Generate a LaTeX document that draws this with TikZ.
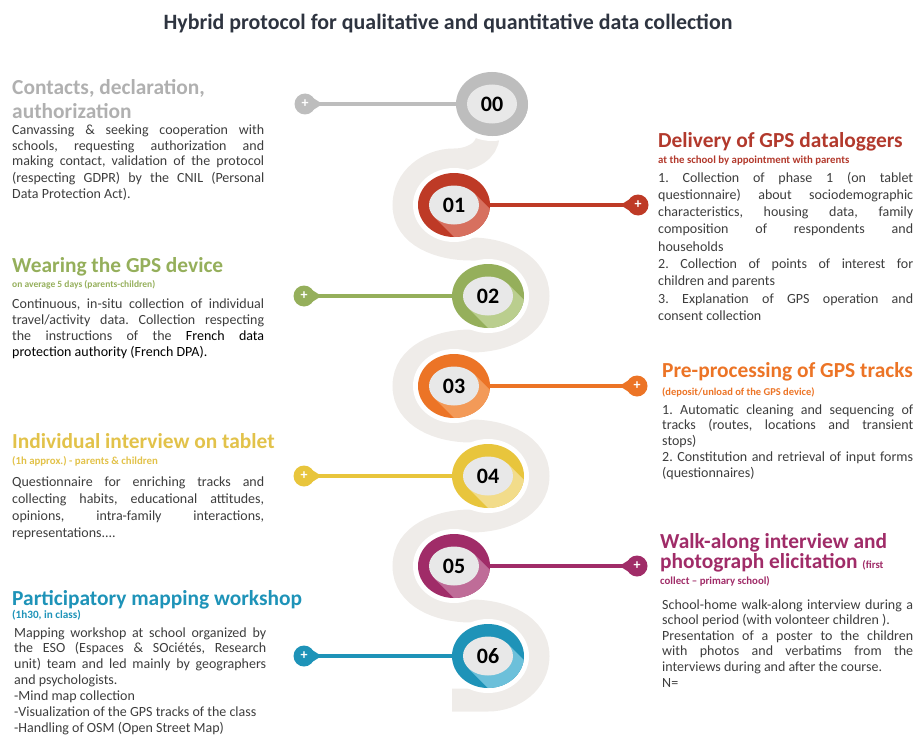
\documentclass[tikz,border=0pt]{standalone}
\usepackage{fontspec}
\setmainfont{Carlito}
\usetikzlibrary{shapes.geometric,arrows.meta}

\definecolor{headc}{HTML}{2E3440}
\definecolor{bodyc}{HTML}{3D3D3D}
\definecolor{snakec}{HTML}{EFECE9}
\definecolor{diskc}{HTML}{E8E8E8}
\definecolor{gr}{HTML}{BDBDBD}
\definecolor{grt}{HTML}{B0B0B0}
\definecolor{rd}{HTML}{BE3A26}
\definecolor{rdl}{HTML}{D7705F}
\definecolor{rdt}{HTML}{B2392C}
\definecolor{gn}{HTML}{95AF5B}
\definecolor{gnl}{HTML}{BACE8E}
\definecolor{og}{HTML}{EC7426}
\definecolor{ogl}{HTML}{F39A58}
\definecolor{yl}{HTML}{E8C53C}
\definecolor{yll}{HTML}{F2DC8A}
\definecolor{ylt}{HTML}{E2C24A}
\definecolor{pp}{HTML}{A02C68}
\definecolor{ppl}{HTML}{BF6C98}
\definecolor{tl}{HTML}{1E93B8}
\definecolor{tll}{HTML}{6CC0DA}

\hyphenpenalty=10000
\exhyphenpenalty=10000
\tolerance=9999
\emergencystretch=20pt
\frenchspacing

\begin{document}
\begin{tikzpicture}[x=1pt, y=1pt,
  ring/.style 2 args={ellipse, minimum width=72pt, minimum height=64pt, inner sep=0pt, outer sep=0pt, fill=#1,
    preaction={draw=white, line width=10pt},
    path picture={\fill[#2] ([shift={(19.5,12.5)}]path picture bounding box.center) -- ++(60,-60) -- ++(-39,-25) -- ++(-60,60) -- cycle;}},
  disk/.style={ellipse, minimum width=50pt, minimum height=39pt, inner sep=0pt, fill=diskc, font=\bfseries\fontsize{22}{22}\selectfont},
  plusdot/.style={circle, fill=#1, minimum size=21pt, inner sep=0pt, text=white, font=\bfseries\fontsize{14}{14}\selectfont},
  conn/.style={draw=#1, line width=4.5pt, arrows={Triangle[reversed, width=13pt, length=11pt]-}, shorten <=-4pt},
  band/.style={draw=snakec, line width=23pt},
  head/.style={anchor=base west, inner sep=0pt, font=\bfseries\fontsize{21.4}{23}\selectfont},
  sub/.style={anchor=base west, inner sep=0pt, font=\bfseries\fontsize{10.8}{12}\selectfont},
  body/.style={anchor=base west, inner sep=0pt, text width=252pt, align=justify, text=bodyc, font=\fontsize{14}{#1}\selectfont}]
\useasboundingbox (0,0) rectangle (917,-741);

\node[anchor=base, inner sep=0pt, text=headc, font=\bfseries\fontsize{21.9}{23}\selectfont] (title) at (448,-30) {Hybrid protocol for qualitative and quantitative data collection};

% winding road
\draw[band] (488,-118) -- (488,-135) to[out=-90,in=0] (454,-160) to[out=180,in=90] (404,-205)
  to[out=-90,in=180] (471,-249) to[out=0,in=90] (538,-296) to[out=-90,in=0] (471,-341)
  to[out=180,in=90] (404,-386) to[out=-90,in=180] (471,-431) to[out=0,in=90] (538,-476)
  to[out=-90,in=0] (471,-521) to[out=180,in=90] (404,-566) to[out=-90,in=180] (471,-611)
  to[out=0,in=90] (538,-656) to[out=-90,in=0] (488,-700) -- (452,-700);

% steps
\node[ring={gr}{gr}] (c0) at (492,-104) {};
\node[ring={rd}{rdl}] (c1) at (454,-205) {};
\node[ring={gn}{gnl}] (c2) at (488,-296) {};
\node[ring={og}{ogl}] (c3) at (454,-386) {};
\node[ring={yl}{yll}] (c4) at (488,-476) {};
\node[ring={pp}{ppl}] (c5) at (454,-566) {};
\node[ring={tl}{tll}] (c6) at (488,-656) {};

\node[disk] (n0) at (c0) {00};
\node[disk] (n1) at (c1) {01};
\node[disk] (n2) at (c2) {02};
\node[disk] (n3) at (c3) {03};
\node[disk] (n4) at (c4) {04};
\node[disk] (n5) at (c5) {05};
\node[disk] (n6) at (c6) {06};

\node[plusdot=gr] (p0) at (305,-104) {+};
\node[plusdot=rd] (p1) at (638,-205) {+};
\node[plusdot=gn] (p2) at (304,-296) {+};
\node[plusdot=og] (p3) at (637,-386) {+};
\node[plusdot=yl] (p4) at (304,-476) {+};
\node[plusdot=pp] (p5) at (637,-566) {+};
\node[plusdot=tl] (p6) at (304,-656) {+};

\draw[conn=gr] (p0) -- (c0);
\draw[conn=rd] (p1) -- (c1);
\draw[conn=gn] (p2) -- (c2);
\draw[conn=og] (p3) -- (c3);
\draw[conn=yl] (p4) -- (c4);
\draw[conn=pp] (p5) -- (c5);
\draw[conn=tl] (p6) -- (c6);

% 00
\node[head, text=grt] (h0) at (12,-95) {Contacts, declaration,};
\node[head, text=grt] (h0b) at (12,-118) {authorization};
\node[body=16] (b0) at (12,-134) {Canvassing \& seeking cooperation with\linebreak schools, requesting authorization and\linebreak making contact, validation of the protocol\linebreak (respecting GDPR) by the CNIL (Personal\linebreak Data Protection Act).};

% 01
\node[head, text=rdt] (h1) at (658,-147) {Delivery of GPS dataloggers};
\node[sub, text=rdt] (s1) at (658,-163) {at the school by appointment with parents};
\node[body=17.3, text width=255pt] (b1) at (658,-182) {1. Collection of phase 1 (on tablet\linebreak questionnaire) about sociodemographic\linebreak characteristics, housing data, family\linebreak composition of respondents and\linebreak households\\ 2. Collection of points of interest for\linebreak children and parents\\ 3. Explanation of GPS operation and\linebreak consent collection};

% 02
\node[head, text=gn] (h2) at (12,-272) {Wearing the GPS device};
\node[sub, text=gn, font=\bfseries\fontsize{9.5}{11}\selectfont] (s2) at (12,-287) {on average 5 days (parents-children)};
\node[body=16] (b2) at (12,-308) {Continuous, in-situ collection of individual\linebreak travel/activity data. Collection respecting\linebreak the instructions of the {\color{black}French data\linebreak protection authority (French DPA).}};

% 03
\node[head, text=og] (h3) at (662,-377) {Pre-processing of GPS tracks};
\node[sub, text=og, font=\bfseries\fontsize{10.5}{12}\selectfont] (s3) at (662,-395) {(deposit/unload of the GPS device)};
\node[body=15.9, text width=251pt] (b3) at (662,-414) {1. Automatic cleaning and sequencing of\linebreak tracks (routes, locations and transient\linebreak stops)\\ 2. Constitution and retrieval of input forms\linebreak (questionnaires)};

% 04
\node[head, text=ylt] (h4) at (12,-448) {Individual interview on tablet};
\node[sub, text=ylt] (s4) at (12,-464) {(1h approx.) - parents \& children};
\node[body=17] (b4) at (12,-486) {Questionnaire for enriching tracks and\linebreak collecting habits, educational attitudes,\linebreak opinions, intra-family interactions,\linebreak representations....};

% 05
\node[head, text=pp] (h5) at (660,-548) {Walk-along interview and};
\node[head, text=pp] (h5b) at (660,-568) {photograph elicitation {\fontsize{10.8}{12}\selectfont (first}};
\node[sub, text=pp] (s5) at (660,-584) {collect – primary school)};
\node[body=15.6, text width=251pt] (b5) at (662,-609) {School-home walk-along interview during a\linebreak school period (with volonteer children ).\\ Presentation of a poster to the children\linebreak with photos and verbatims from the\linebreak interviews during and after the course.\\ N=};

% 06
\node[head, text=tl] (h6) at (12,-605) {Participatory mapping workshop};
\node[sub, text=tl, font=\bfseries\fontsize{11.2}{12}\selectfont] (s6) at (12,-618) {(1h30, in class)};
\node[body=15.9] (b6) at (14,-637) {Mapping workshop at school organized by\linebreak the ESO (Espaces \& SOciétés, Research\linebreak unit) team and led mainly by geographers\linebreak and psychologists.\\ -Mind map collection\\ -Visualization of the GPS tracks of the class\\ -Handling of OSM (Open Street Map)};
\end{tikzpicture}
\end{document}
